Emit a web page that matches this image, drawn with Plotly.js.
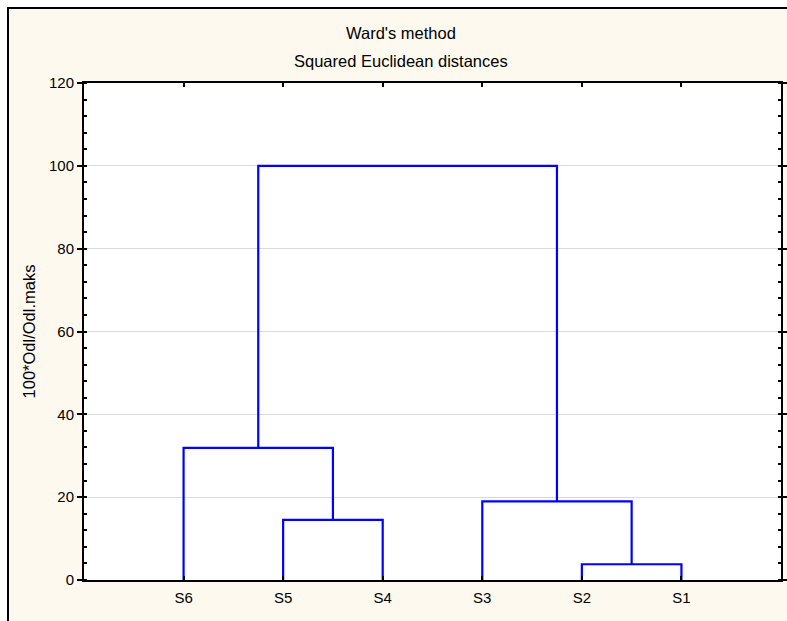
<!DOCTYPE html>
<html>
<head>
<meta charset="utf-8">
<script src="https://cdn.plot.ly/plotly-3.0.1.min.js"></script>
<style>
  html, body { margin: 0; padding: 0; background: #ffffff; }
  #frame { position: absolute; left: 7px; top: 7px; width: 780px; height: 614px;
           border-left: 2px solid #000; border-top: 2px solid #000; background: #fdf9ef; }
  #plot { width: 778px; height: 612px; }
</style>
</head>
<body>
<div id="frame"><div id="plot"></div></div>
<script>
// Leaves in the order they appear along the x axis
const leafLabels = ['S6', 'S5', 'S4', 'S3', 'S2', 'S1'];
// Linkage steps: [left node, right node, linkage distance (100*Odl/Odl.maks)]
// nodes 0..5 are leaves (index into leafLabels); node 6+k is the cluster created at step k
const mergeLeft    = [4, 1, 3, 0, 9];
const mergeRight   = [5, 2, 6, 7, 8];
const mergeHeights = [3.8, 14.5, 19.0, 31.9, 100];

const titleLine1 = "Ward's method";
const titleLine2 = 'Squared Euclidean distances';
const yTitle = '100*Odl/Odl.maks';
const yTicks = [0, 20, 40, 60, 80, 100, 120];

// Compute node positions through the linkage structure
const nodeX = leafLabels.map((_, i) => i + 1);
const nodeY = leafLabels.map(() => 0);
const xs = [], ys = [];
for (let k = 0; k < mergeHeights.length; k++) {
  const a = mergeLeft[k], b = mergeRight[k], h = mergeHeights[k];
  xs.push(nodeX[a], nodeX[a], nodeX[b], nodeX[b], null);
  ys.push(nodeY[a], h, h, nodeY[b], null);
  nodeX.push((nodeX[a] + nodeX[b]) / 2);
  nodeY.push(h);
}

const fam = 'Liberation Sans, Arial, sans-serif';
const font = { family: fam, size: 15, color: '#000' };
const titleFont = { family: fam, size: 16.5, color: '#000' };

const data = [{
  type: 'scatter', mode: 'lines', x: xs, y: ys,
  line: { color: '#0000ff', width: 2.2 },
  hoverinfo: 'skip', showlegend: false, connectgaps: false
}];

const layout = {
  width: 778, height: 612,
  margin: { l: 75, r: 6, t: 74, b: 41 },
  paper_bgcolor: '#fdf9ef',
  plot_bgcolor: '#ffffff',
  font: font,
  showlegend: false,
  annotations: [
    { text: titleLine1, xref: 'paper', yref: 'paper', x: 0.4548, y: 1.0996,
      xanchor: 'center', yanchor: 'middle', showarrow: false, font: titleFont },
    { text: titleLine2, xref: 'paper', yref: 'paper', x: 0.4548, y: 1.0443,
      xanchor: 'center', yanchor: 'middle', showarrow: false, font: titleFont }
  ],
  xaxis: {
    range: [0, leafLabels.length + 1],
    tickmode: 'array', tickvals: leafLabels.map((_, i) => i + 1), ticktext: leafLabels,
    ticks: 'inside', ticklen: 4, tickwidth: 2, tickcolor: '#000',
    showline: true, linecolor: '#000', linewidth: 2, mirror: 'ticks',
    showgrid: false, zeroline: false, fixedrange: true,
    ticklabelstandoff: 3, tickfont: font
  },
  yaxis: {
    range: [0, 120],
    tickmode: 'array', tickvals: yTicks,
    ticks: 'outside', ticklen: 5, tickwidth: 2, tickcolor: '#000',
    minor: { dtick: 4, ticks: 'inside', ticklen: 3, tickwidth: 2, tickcolor: '#000', showgrid: false },
    showline: true, linecolor: '#000', linewidth: 2, mirror: 'ticks',
    showgrid: true, gridcolor: '#dadada', gridwidth: 1,
    zeroline: false, fixedrange: true, tickfont: font,
    title: { text: yTitle, font: titleFont, standoff: 9 }
  }
};

Plotly.newPlot('plot', data, layout, { displayModeBar: false, staticPlot: true });
</script>
</body>
</html>
